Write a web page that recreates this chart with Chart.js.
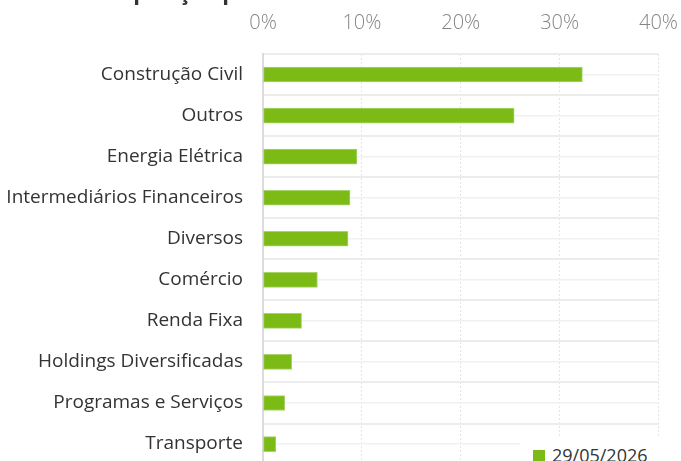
<!DOCTYPE html>
<html>
<head>
<meta charset="utf-8">
<script src="https://cdn.jsdelivr.net/npm/chart.js@4.4.1/dist/chart.umd.min.js"></script>
<style>
  html, body { margin: 0; padding: 0; background: #fff; overflow: hidden; }
  #wrap { position: relative; width: 681px; height: 461px; overflow: hidden; }
  #title { position: absolute; left: 84px; top: -20px; font: bold 22px/22px 'Open Sans', sans-serif; color: #333; white-space: nowrap; }
  #cv { position: absolute; left: 0; top: -8px; }
  #legend { position: absolute; left: 520px; top: 436px; width: 150px; height: 40px; background: #fff; }
  #legend .box { position: absolute; left: 13px; top: 14px; width: 12px; height: 12px; background: #7cbb16; }
  #legend .txt { position: absolute; left: 32px; top: 10px; font: 18px/18px 'Open Sans', sans-serif; color: #333; white-space: nowrap; }
</style>
</head>
<body>
<div id="wrap">
  <canvas id="cv" width="697" height="504"></canvas>
  <div id="title">Composição por Setor</div>
  <div id="legend"><span class="box"></span><span class="txt" id="legendText"></span></div>
</div>
<script>
const categories = ["Construção Civil", "Outros", "Energia Elétrica", "Intermediários Financeiros", "Diversos", "Comércio", "Renda Fixa", "Holdings Diversificadas", "Programas e Serviços", "Transporte"];
const seriesName = "29/05/2026";
const values = [32.3, 25.4, 9.5, 8.8, 8.6, 5.5, 3.9, 2.9, 2.2, 1.3];
const xTicks = [0, 10, 20, 30, 40];

document.getElementById('legendText').textContent = seriesName;

new Chart(document.getElementById('cv'), {
  type: 'bar',
  data: {
    labels: categories,
    datasets: [{
      label: seriesName,
      data: values,
      backgroundColor: '#7cbb16',
      borderColor: '#a9d46c',
      borderWidth: 1,
      borderSkipped: false,
      barThickness: 15,
      yAxisID: 'y'
    }]
  },
  options: {
    indexAxis: 'y',
    responsive: false,
    animation: false,
    layout: { padding: { top: 0, left: 0, right: 0, bottom: 0 } },
    plugins: {
      legend: { display: false },
      title: { display: false },
      tooltip: { enabled: false }
    },
    scales: {
      x: {
        position: 'top',
        min: xTicks[0],
        max: xTicks[xTicks.length - 1],
        afterBuildTicks: (axis) => { axis.ticks = xTicks.map(v => ({ value: v })); },
        ticks: {
          padding: 19,
          color: '#858585',
          font: { family: 'Open Sans', size: 20, weight: '300' },
          callback: (v) => v + '%'
        },
        grid: { color: '#e4e4e4', lineWidth: 1, drawTicks: false },
        border: { display: false, dash: [2, 2] }
      },
      y: {
        position: 'left',
        offset: true,
        afterFit: (axis) => { axis.width = 263; },
        ticks: {
          padding: 20,
          color: '#333333',
          font: { family: 'Open Sans', size: 19, weight: '400' }
        },
        grid: { offset: true, color: '#ececec', lineWidth: 2, drawTicks: false },
        border: { display: true, color: '#dcdcdc', width: 2 }
      },
      y2: {
        type: 'category',
        position: 'left',
        offset: true,
        labels: categories,
        ticks: { display: false },
        grid: { offset: false, color: '#f1f1f1', lineWidth: 1.5, drawTicks: false },
        border: { display: false }
      }
    }
  }
});
</script>
</body>
</html>
